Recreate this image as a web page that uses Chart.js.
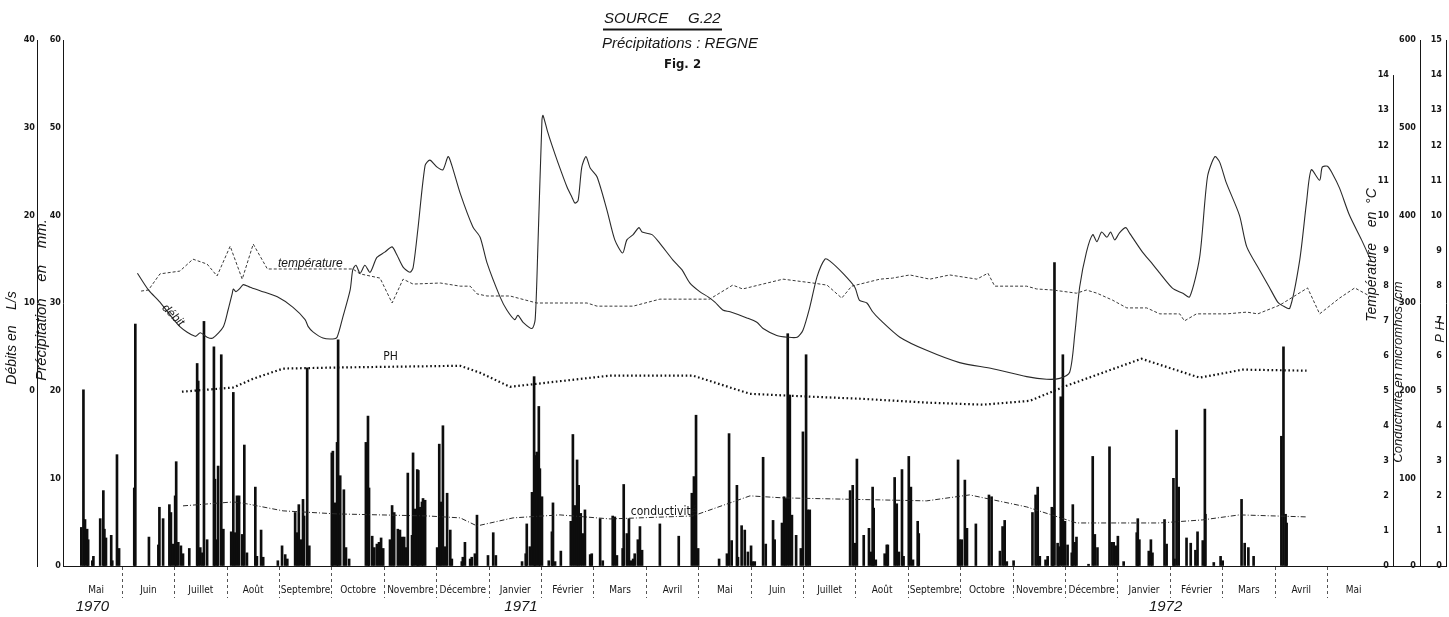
<!DOCTYPE html>
<html>
<head>
<meta charset="utf-8">
<script src="https://cdn.jsdelivr.net/npm/chart.js@4.4.0/dist/chart.umd.min.js"></script>
<style>
  html, body { margin: 0; padding: 0; background: #fff; }
  #c { display: block; }
</style>
</head>
<body>
<canvas id="c" width="1449" height="617"></canvas>
<script>
// x values are months counted from 1 May 1970 (0 = start of Mai 1970)
const monthNames = ['Mai', 'Juin', 'Juillet', 'Août', 'Septembre', 'Octobre', 'Novembre', 'Décembre',
    'Janvier', 'Février', 'Mars', 'Avril', 'Mai', 'Juin', 'Juillet', 'Août', 'Septembre', 'Octobre',
    'Novembre', 'Décembre', 'Janvier', 'Février', 'Mars', 'Avril', 'Mai'];
const yearLabels = ['1970', '1971', '1972'];
const yearAt = [0.43, 8.61, 20.91];

// daily precipitation, [month, mm]
const rainfall = [
    [0.22,4.4],[0.26,20.1],[0.29,5.3],[0.33,4.2],[0.35,3.0],[0.43,0.6],[0.45,1.1],[0.58,5.4],[0.64,8.6],
    [0.66,4.2],[0.69,3.2],[0.79,3.5],[0.81,0.6],[0.90,12.7],[0.94,2.0],[1.23,8.9],[1.25,27.6],[1.51,3.3],
    [1.69,2.4],[1.71,6.7],[1.78,5.4],[1.90,7.0],[1.93,6.1],[1.97,2.5],[2.01,8.0],[2.03,11.9],[2.07,2.7],
    [2.12,2.3],[2.16,1.4],[2.28,2.0],[2.43,23.1],[2.45,21.1],[2.49,2.1],[2.53,1.5],[2.56,27.9],[2.62,3.0],
    [2.75,25.0],[2.77,9.9],[2.81,3.0],[2.83,11.4],[2.89,24.1],[2.93,4.2],[3.08,3.9],[3.12,19.8],[3.15,3.8],
    [3.19,8.0],[3.23,8.0],[3.29,3.6],[3.33,13.8],[3.38,1.5],[3.54,9.0],[3.57,1.1],[3.65,4.1],[3.69,1.0],
    [3.97,0.6],[4.05,2.3],[4.11,1.3],[4.15,0.8],[4.30,6.1],[4.34,3.8],[4.37,7.0],[4.41,3.0],[4.45,7.6],
    [4.47,5.7],[4.53,22.6],[4.57,2.3],[5.00,12.9],[5.02,13.1],[5.06,7.2],[5.10,14.1],[5.12,25.8],[5.16,10.3],
    [5.23,8.7],[5.27,2.1],[5.33,0.8],[5.65,14.1],[5.69,17.1],[5.71,8.9],[5.77,3.4],[5.81,2.1],[5.86,2.5],
    [5.90,2.7],[5.94,3.2],[5.98,2.0],[6.11,3.0],[6.15,6.9],[6.19,6.1],[6.26,4.2],[6.30,4.1],[6.34,3.3],
    [6.38,3.3],[6.42,2.1],[6.45,10.6],[6.53,3.5],[6.55,12.9],[6.59,6.5],[6.63,11.0],[6.65,10.9],[6.68,6.7],
    [6.72,7.3],[6.74,7.7],[6.78,7.5],[7.01,2.1],[7.05,13.9],[7.08,7.3],[7.12,16.0],[7.16,2.2],[7.20,8.3],
    [7.26,4.1],[7.29,0.8],[7.48,0.5],[7.50,1.0],[7.54,2.7],[7.64,0.8],[7.67,1.0],[7.73,1.4],[7.77,5.8],
    [7.98,1.2],[8.08,3.8],[8.13,1.2],[8.63,0.5],[8.70,1.4],[8.72,4.8],[8.78,2.2],[8.82,8.4],[8.86,21.6],
    [8.88,12.6],[8.91,13.0],[8.95,18.2],[8.97,11.1],[9.01,7.9],[9.14,0.6],[9.20,3.9],[9.22,7.2],[9.26,0.5],
    [9.37,1.7],[9.56,5.1],[9.60,15.0],[9.64,6.9],[9.68,12.1],[9.71,9.2],[9.75,6.0],[9.79,3.7],[9.83,6.4],
    [9.93,1.3],[9.96,1.4],[10.12,5.4],[10.17,0.6],[10.36,5.7],[10.40,5.6],[10.44,1.2],[10.55,2.0],[10.57,9.3],
    [10.63,3.7],[10.67,5.4],[10.71,0.6],[10.75,0.8],[10.78,1.4],[10.84,3.0],[10.88,4.5],[10.92,1.8],
    [11.26,4.8],[11.62,3.4],[11.87,8.3],[11.91,10.2],[11.95,17.2],[11.99,2.0],[12.39,0.8],[12.54,1.4],
    [12.58,15.1],[12.63,2.9],[12.73,9.2],[12.75,1.0],[12.82,4.6],[12.88,4.1],[12.94,1.6],[13.00,2.3],
    [13.03,0.5],[13.07,0.5],[13.23,12.4],[13.28,2.5],[13.42,5.2],[13.45,3.0],[13.59,4.9],[13.63,7.9],
    [13.66,7.7],[13.70,26.5],[13.74,19.5],[13.78,5.8],[13.86,3.5],[13.95,2.0],[13.99,15.3],[14.05,24.1],
    [14.08,6.4],[14.12,6.4],[14.89,8.6],[14.94,9.2],[14.98,2.6],[15.02,12.2],[15.15,3.5],[15.25,4.3],
    [15.29,1.6],[15.32,9.0],[15.34,6.6],[15.38,0.7],[15.55,1.4],[15.59,2.4],[15.61,2.4],[15.74,10.1],
    [15.78,7.1],[15.82,1.6],[15.88,11.0],[15.91,1.1],[16.01,12.5],[16.05,9.0],[16.09,0.7],[16.18,5.1],
    [16.20,3.7],[16.95,12.1],[16.98,3.0],[17.02,3.0],[17.08,9.8],[17.12,4.3],[17.29,4.8],[17.54,8.1],
    [17.59,7.9],[17.75,1.7],[17.80,4.5],[17.84,5.2],[17.88,0.5],[18.01,0.6],[18.37,6.1],[18.43,8.1],
    [18.47,9.0],[18.51,1.1],[18.62,0.7],[18.66,1.1],[18.74,6.7],[18.76,6.6],[18.79,34.6],[18.85,2.6],
    [18.87,2.2],[18.91,19.3],[18.95,24.1],[18.99,5.1],[19.04,2.4],[19.12,1.5],[19.14,7.0],[19.18,2.7],
    [19.21,3.3],[19.44,0.2],[19.52,12.5],[19.56,3.6],[19.61,2.1],[19.84,13.6],[19.88,2.7],[19.92,2.7],
    [19.96,2.3],[20.00,3.4],[20.11,0.5],[20.36,3.8],[20.38,5.4],[20.41,3.0],[20.59,1.7],[20.63,3.0],
    [20.66,1.5],[20.89,5.3],[20.93,2.5],[21.06,10.0],[21.08,0.8],[21.12,15.5],[21.16,9.0],[21.31,3.2],
    [21.39,2.6],[21.48,1.8],[21.52,3.9],[21.62,2.9],[21.66,17.9],[21.67,5.9],[21.83,0.4],[21.96,1.1],
    [22.00,0.6],[22.36,7.6],[22.42,2.6],[22.49,2.1],[22.59,1.1],[23.12,14.8],[23.16,25.0],[23.20,5.9],
    [23.22,4.9]
];

// flow of the spring, [month, L/s]
const debit = [
    [1.29,13.4],[1.50,11.5],[1.72,10.1],[2.10,7.3],[2.39,6.2],[2.49,6.6],[2.62,6.1],[2.73,6.0],[2.93,7.3],
    [3.02,9.2],[3.10,11.1],[3.12,11.6],[3.17,11.3],[3.25,11.7],[3.31,12.1],[3.44,11.8],[3.63,11.4],
    [3.96,10.7],[4.26,9.5],[4.49,8.1],[4.55,7.3],[4.64,6.7],[4.83,6.0],[5.02,5.9],[5.10,6.1],[5.21,8.4],
    [5.35,11.5],[5.40,13.8],[5.46,14.3],[5.54,13.4],[5.63,14.3],[5.73,13.5],[5.86,15.2],[6.01,15.8],
    [6.15,16.4],[6.24,15.5],[6.36,14.1],[6.49,13.5],[6.55,14.0],[6.64,18.3],[6.78,25.7],[6.87,26.3],
    [7.01,25.5],[7.12,25.2],[7.22,26.7],[7.29,25.7],[7.45,22.5],[7.69,18.7],[7.83,17.5],[7.96,14.6],
    [8.21,10.7],[8.34,9.2],[8.49,8.1],[8.55,8.6],[8.65,7.8],[8.82,7.1],[8.88,8.1],[8.93,16.0],[9.01,30.9],
    [9.03,31.4],[9.11,29.7],[9.20,28.0],[9.31,26.1],[9.49,23.2],[9.58,22.1],[9.64,21.4],[9.70,21.7],
    [9.77,25.5],[9.85,26.7],[9.93,25.4],[10.06,24.4],[10.25,20.6],[10.40,17.2],[10.55,15.7],[10.63,17.2],
    [10.75,17.8],[10.86,18.6],[10.92,18.1],[11.11,17.8],[11.26,16.8],[11.51,14.9],[11.68,13.8],[11.83,12.3],
    [12.02,11.3],[12.18,10.7],[12.31,10.1],[12.46,9.2],[12.60,9.0],[12.92,8.3],[13.11,7.8],[13.23,7.1],
    [13.49,6.3],[13.70,6.1],[13.88,6.1],[13.99,6.9],[14.12,9.5],[14.26,13.0],[14.41,15.0],[14.50,14.8],
    [14.75,13.4],[14.98,11.8],[15.07,10.3],[15.21,10.0],[15.32,9.0],[15.46,8.1],[15.84,6.1],[16.35,4.6],
    [16.98,3.2],[17.61,2.5],[18.26,1.6],[18.64,1.3],[18.89,1.4],[19.08,2.1],[19.18,6.6],[19.27,11.8],
    [19.40,15.8],[19.52,17.8],[19.60,17.0],[19.69,18.1],[19.79,17.5],[19.86,18.1],[19.94,17.2],[20.03,18.0],
    [20.15,18.6],[20.22,18.0],[20.47,15.8],[20.64,14.6],[20.80,13.4],[21.04,11.7],[21.24,11.1],[21.37,10.7],
    [21.56,15.2],[21.71,24.4],[21.85,26.7],[21.94,26.1],[22.07,23.7],[22.32,20.0],[22.46,16.4],[22.70,13.8],
    [22.89,11.8],[23.05,10.1],[23.14,9.7],[23.28,9.4],[23.47,14.9],[23.60,21.5],[23.69,25.2],[23.85,24.0],
    [23.90,25.5],[24.00,25.6],[24.09,24.8],[24.23,23.1],[24.42,20.0],[24.65,17.2],[24.84,14.7]
];

// water temperature, [month, °C]
const temperature = [
    [1.36,7.84],[1.50,7.87],[1.72,8.33],[2.10,8.41],[2.35,8.75],[2.62,8.61],[2.81,8.27],[3.06,9.12],
    [3.29,8.18],[3.50,9.18],[3.77,8.47],[5.40,8.47],[5.54,8.33],[5.92,8.21],[6.15,7.50],[6.36,8.18],
    [6.55,8.04],[7.07,8.07],[7.45,7.98],[7.64,7.98],[7.77,7.76],[7.96,7.70],[8.40,7.70],[8.91,7.50],
    [9.87,7.50],[10.06,7.41],[10.75,7.41],[11.26,7.61],[12.21,7.61],[12.65,8.01],[12.84,7.90],[13.61,8.18],
    [14.18,8.07],[14.45,8.01],[14.73,7.64],[14.92,7.98],[15.46,8.18],[15.70,8.21],[16.03,8.30],[16.41,8.18],
    [16.79,8.30],[17.31,8.18],[17.52,8.35],[17.65,7.98],[18.26,7.98],[18.45,7.90],[18.76,7.87],[19.21,7.78],
    [19.40,7.87],[19.60,7.78],[19.90,7.58],[20.17,7.36],[20.55,7.36],[20.80,7.19],[21.18,7.19],[21.27,6.99],
    [21.50,7.19],[22.08,7.19],[22.46,7.24],[22.67,7.19],[23.09,7.44],[23.62,7.93],[23.85,7.19],[24.23,7.64],
    [24.52,7.93],[24.84,7.67]
];

// pH, [month, pH]
const ph = [
    [2.14,4.97],[3.12,5.09],[3.50,5.34],[4.07,5.63],[5.10,5.66],[7.45,5.71],[7.83,5.51],[8.40,5.11],
    [10.31,5.43],[11.89,5.43],[12.98,4.91],[14.12,4.83],[15.08,4.77],[16.35,4.66],[17.42,4.60],[18.32,4.71],
    [19.02,5.14],[20.45,5.91],[21.56,5.37],[22.38,5.60],[23.60,5.57]
];

// conductivity, [month, micromhos/cm]
const conductivite = [
    [2.16,68.6],[3.12,73.1],[3.38,70.9],[4.07,62.9],[5.10,59.4],[6.82,57.1],[7.45,54.9],[7.77,45.7],
    [8.46,54.9],[9.35,58.3],[10.31,53.7],[11.89,57.1],[12.98,80.0],[13.61,77.7],[15.46,75.4],[16.35,74.3],
    [17.17,81.1],[18.26,67.4],[19.21,49.1],[20.80,49.1],[21.62,52.6],[22.32,58.3],[23.60,56.0]
];

const INK = '#161616';
const tickFont = { family: 'DejaVu Sans Condensed', size: 9, weight: 'bold' };
const toXY = arr => arr.map(([x, y]) => ({ x, y }));

// month boundaries get a dashed separator, month centres carry the label
const monthTicks = [];
for (let i = 0; i < monthNames.length; i++) {
    if (i > 0) monthTicks.push(i);
    monthTicks.push(i + 0.5);
}

function vText(ctx, text, x, y, font) {
    ctx.save();
    ctx.translate(x, y);
    ctx.rotate(-Math.PI / 2);
    ctx.font = font;
    ctx.textAlign = 'center';
    ctx.textBaseline = 'middle';
    ctx.fillText(text, 0, 0);
    ctx.restore();
}

// keep the month axis flush with the plot edges
const noSidePadding = s => { s.paddingLeft = 0; s.paddingRight = 0; };

const decor = {
    id: 'decor',
    afterDraw(chart) {
        const { ctx, scales, chartArea } = chart;
        ctx.save();
        ctx.strokeStyle = INK;
        ctx.fillStyle = INK;
        ctx.lineWidth = 1;

        // temperature axis only runs up to 14
        const tx = Math.round(scales.yTemp.left) + 0.5;
        ctx.beginPath();
        ctx.moveTo(tx, scales.yTemp.getPixelForValue(14));
        ctx.lineTo(tx, scales.yTemp.getPixelForValue(0));
        ctx.stroke();

        // baseline carries on under the right-hand axes
        const by = Math.round(chartArea.bottom) + 0.5;
        ctx.beginPath();
        ctx.moveTo(chartArea.right, by);
        ctx.lineTo(scales.yPH.left, by);
        ctx.stroke();

        // heading
        ctx.textBaseline = 'alphabetic';
        ctx.textAlign = 'left';
        ctx.font = 'italic 15px "Liberation Sans"';
        ctx.fillText('SOURCE', 604, 23);
        ctx.fillText('G.22', 688, 23);
        ctx.lineWidth = 2;
        ctx.beginPath();
        ctx.moveTo(603, 29.5);
        ctx.lineTo(722, 29.5);
        ctx.stroke();
        ctx.fillText('Précipitations : REGNE', 602, 48);
        ctx.font = 'bold 13px "DejaVu Sans Condensed"';
        ctx.fillText('Fig. 2', 664, 68);

        // axis titles
        vText(ctx, 'Débits en    L/s', scales.yDeb.left + 12, 338, 'italic 14px "Liberation Sans"');
        vText(ctx, 'Précipitation    en    mm.', scales.yDeb.right + 5, 300, 'italic 15px "Liberation Sans"');
        vText(ctx, 'Température    en  °C', scales.yTemp.left - 21, 255, 'italic 14px "Liberation Sans"');
        vText(ctx, 'Conductivité en micromhos /cm', scales.yCond.left - 22, 372, 'italic 13px "Liberation Sans"');
        vText(ctx, 'P H', scales.yPH.left - 6, 332, 'italic 13px "Liberation Sans"');

        // curve names
        const x = scales.x;
        ctx.font = 'italic 12px "Liberation Sans"';
        ctx.textAlign = 'center';
        ctx.textBaseline = 'middle';
        ctx.fillText('température', x.getPixelForValue(4.59), scales.yTemp.getPixelForValue(8.62));
        ctx.font = '12px "DejaVu Sans Condensed"';
        ctx.fillText('PH', x.getPixelForValue(6.12), scales.yPH.getPixelForValue(5.95));
        ctx.fillText('conductivité', x.getPixelForValue(11.34), scales.yCond.getPixelForValue(62));
        ctx.save();
        ctx.translate(x.getPixelForValue(1.97), scales.yDeb.getPixelForValue(8.6));
        ctx.rotate(Math.PI / 4);
        ctx.font = 'italic 12px "Liberation Sans"';
        ctx.fillText('débit', 0, 0);
        ctx.restore();
        ctx.restore();
    }
};

const plainGrid = { drawOnChartArea: false, drawTicks: false };
const axisBorder = { display: true, color: INK, width: 1 };

new Chart(document.getElementById('c'), {
    type: 'bar',
    data: {
        datasets: [
            {
                type: 'line', label: 'débit', data: toXY(debit), xAxisID: 'x', yAxisID: 'yDeb',
                borderColor: '#2a2a2a', borderWidth: 1.1, pointRadius: 0, tension: 0.25, order: 1
            },
            {
                type: 'line', label: 'température', data: toXY(temperature), xAxisID: 'x', yAxisID: 'yTemp',
                borderColor: '#3a3a3a', borderWidth: 1, borderDash: [3, 2], pointRadius: 0, tension: 0, order: 2
            },
            {
                type: 'line', label: 'PH', data: toXY(ph), xAxisID: 'x', yAxisID: 'yPH',
                borderColor: '#111', borderWidth: 2.2, borderDash: [1.6, 2.6], pointRadius: 0, tension: 0, order: 3
            },
            {
                type: 'line', label: 'conductivité', data: toXY(conductivite), xAxisID: 'x', yAxisID: 'yCond',
                borderColor: '#2a2a2a', borderWidth: 1, borderDash: [5, 2, 1, 2], pointRadius: 0, tension: 0, order: 4
            },
            {
                type: 'bar', label: 'précipitations', data: toXY(rainfall), xAxisID: 'x', yAxisID: 'yPrec',
                backgroundColor: '#0d0d0d', barThickness: 2, order: 5
            }
        ]
    },
    options: {
        responsive: false,
        animation: false,
        layout: { padding: { top: 40, left: 0, right: 0, bottom: 0 } },
        plugins: { legend: { display: false }, tooltip: { enabled: false } },
        scales: {
            x: {
                type: 'linear', position: 'bottom', offset: false, min: -0.13, max: 25.25,
                afterBuildTicks: s => { s.ticks = monthTicks.map(v => ({ value: v })); },
                afterFit: s => { s.height = 32; noSidePadding(s); },
                ticks: {
                    autoSkip: false, maxRotation: 0, minRotation: 0, padding: -14, color: INK,
                    font: { family: 'DejaVu Sans Condensed', size: 10 },
                    callback: v => Number.isInteger(v - 0.5) ? monthNames[v - 0.5] : ''
                },
                grid: {
                    offset: false, drawOnChartArea: false, tickLength: 32, tickBorderDash: [3, 3], tickWidth: 1,
                    tickColor: c => (c.tick && Number.isInteger(c.tick.value)) ? '#555' : 'rgba(0,0,0,0)'
                },
                border: axisBorder
            },
            xYear: {
                type: 'linear', position: 'bottom', offset: false, weight: 1, min: -0.13, max: 25.25,
                afterBuildTicks: s => { s.ticks = yearAt.map(v => ({ value: v })); },
                afterFit: s => { s.height = 19; noSidePadding(s); },
                ticks: {
                    autoSkip: false, maxRotation: 0, padding: 0, color: INK,
                    font: { family: 'Liberation Sans', size: 15, style: 'italic' },
                    callback: (v, i) => yearLabels[i]
                },
                grid: { offset: false, display: false, drawTicks: false },
                border: { display: false }
            },
            yDeb: {
                type: 'linear', position: 'left', weight: 1, min: -20, max: 40,
                afterFit: s => { s.width = 37; },
                ticks: { stepSize: 10, padding: 2, color: INK, font: tickFont, callback: v => v < 0 ? '' : v },
                grid: plainGrid, border: axisBorder
            },
            yPrec: {
                type: 'linear', position: 'left', weight: 0, min: 0, max: 60,
                afterFit: s => { s.width = 26; },
                ticks: { stepSize: 10, padding: 2, color: INK, font: tickFont },
                grid: plainGrid, border: axisBorder
            },
            yTemp: {
                type: 'linear', position: 'right', weight: 0, min: 0, max: 15,
                afterFit: s => { s.width = 27; },
                ticks: { stepSize: 1, mirror: true, padding: -4, color: INK, font: tickFont, callback: v => v > 14 ? '' : v },
                grid: plainGrid, border: { display: false }
            },
            yCond: {
                type: 'linear', position: 'right', weight: 1, min: 0, max: 600,
                afterFit: s => { s.width = 26; },
                ticks: { stepSize: 100, mirror: true, padding: -4, color: INK, font: tickFont },
                grid: plainGrid, border: axisBorder
            },
            yPH: {
                type: 'linear', position: 'right', weight: 2, min: 0, max: 15,
                afterFit: s => { s.width = 3; },
                ticks: { stepSize: 1, mirror: true, padding: -4, color: INK, font: tickFont },
                grid: plainGrid, border: axisBorder
            }
        }
    },
    plugins: [decor]
});
</script>
</body>
</html>
